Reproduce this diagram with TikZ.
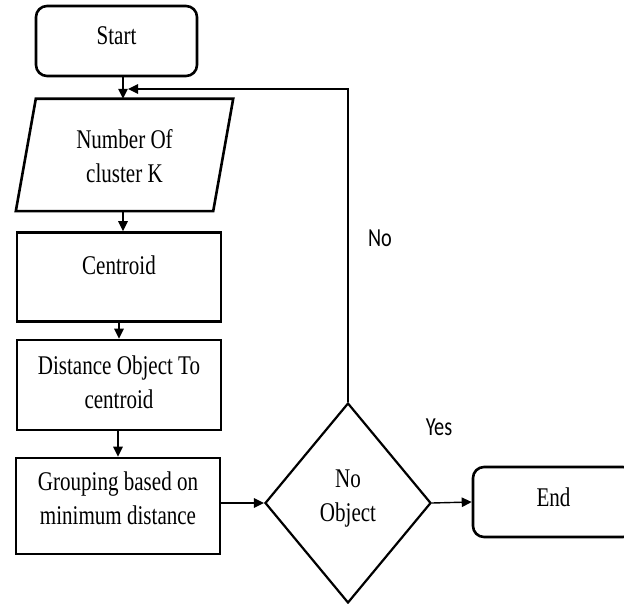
\documentclass[tikz,border=0pt]{standalone}
\usepackage{graphicx}
\usepackage{fontspec}
\setmainfont{Liberation Serif}
\newfontfamily\lblfont{Carlito}
\usetikzlibrary{shapes.geometric,arrows.meta}
\newcommand{\nr}[1]{\scalebox{0.78}[1]{#1}}
\newcommand{\liftby}[2]{\raisebox{#1}[\height][\depth]{#2}}
\begin{document}
\begin{tikzpicture}[x=1pt,y=-1pt,
  boxline/.style={draw, line width=2.6pt},
  txt/.style={font=\fontsize{27}{34}\selectfont, align=center, inner sep=0pt},
  lbl/.style={font=\lblfont\fontsize{26}{30}\selectfont, inner sep=0pt},
  arr/.style={line width=1.4pt, -{Triangle[length=10pt,width=9.5pt]}}]
\clip (0,0) rectangle (624,604);
\fill[white] (0,0) rectangle (624,604);
% nodes
\node[boxline, rounded corners=11pt, minimum width=161pt, minimum height=70pt, txt] (start) at (116.5,41) {\liftby{5pt}{\nr{Start}}};
\node[txt, minimum width=197pt, minimum height=112pt] (num) at (124.5,155) {\liftby{-4pt}{\nr{\begin{tabular}{@{}c@{}}Number Of\\cluster K\end{tabular}}}};
\draw[boxline] ([xshift=10pt]num.north west) -- ([xshift=10pt]num.north east) -- ([xshift=-10pt]num.south east) -- ([xshift=-10pt]num.south west) -- cycle;
\node[boxline, minimum width=204pt, minimum height=89pt, label={[txt,yshift=12pt]center:\nr{Centroid}}] (cent) at (119,277) {};
\node[boxline, txt, minimum width=204pt, minimum height=90pt] (dist) at (119,385) {\nr{\begin{tabular}{@{}c@{}}Distance Object To\\centroid\end{tabular}}};
\node[boxline, txt, minimum width=204pt, minimum height=96pt] (grp) at (118,506) {\liftby{5pt}{\nr{\begin{tabular}{@{}c@{}}Grouping based on\\minimum distance\end{tabular}}}};
\node[draw, line width=2.2pt, diamond, txt, minimum width=166pt, minimum height=200pt] (dia) at (348,503) {\liftby{5pt}{\nr{\begin{tabular}{@{}c@{}}No\\Object\end{tabular}}}};
\node[boxline, rounded corners=11pt, minimum width=161pt, minimum height=70pt, txt] (end) at (553.5,502) {\liftby{5pt}{\nr{End}}};
\node[lbl] (nolbl) at (380,238) {\nr{No}};
\node[lbl] (yeslbl) at (439,427) {\nr{Yes}};
% connectors
\coordinate (ax) at (123,0);
\coordinate (fb) at (128,89);
\draw[arr] (start.south -| ax) -- (num.north -| ax);
\draw[arr] (num.south -| ax) -- (cent.north -| ax);
\draw[arr] (cent.south) -- (dist.north);
\draw[arr] (grp.north |- dist.south) -- (grp.north);
\draw[arr] (dia.west -| grp.east) -- (dia.west);
\draw[arr] (dia.east) -- (end.west);
\draw[arr] (dia.north) |- (fb);
\end{tikzpicture}
\end{document}
